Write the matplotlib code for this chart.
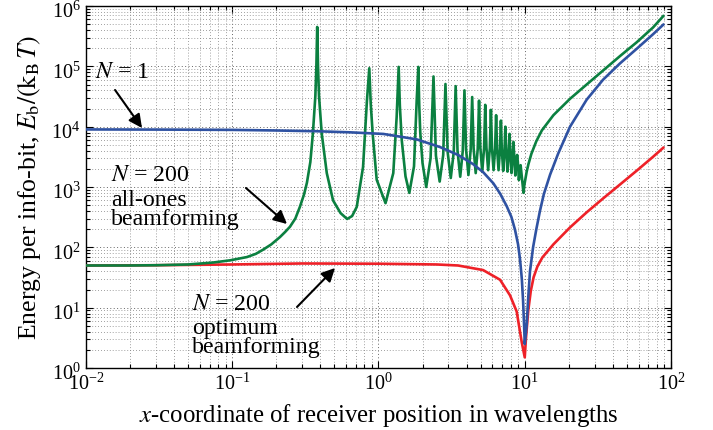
import numpy as np
import matplotlib
matplotlib.use("Agg")
import matplotlib.pyplot as plt
import matplotlib.transforms as mtransforms
from matplotlib.ticker import LogLocator, NullFormatter

# N = 1 (single antenna)
blue_x = [0.01, 0.03, 0.1, 0.2, 0.38, 0.64, 1.08, 1.82, 2.63, 3.5, 4.43, 5.21, 6.1,
          6.78, 7.53, 8.1, 8.58, 9.0, 9.29, 9.55, 9.74, 9.9, 10.0, 10.3, 10.57, 10.86,
          11.4, 12.0, 12.7, 13.5, 14.9, 16.9, 20.4, 26.5, 34.3, 44.8, 58.2, 75.3, 88.5]
blue_y = [9000, 8950, 8850, 8650, 8400, 8060, 7580, 6170, 4600, 3400, 2400, 1750, 1150,
          780, 480, 320, 195, 112, 62, 30, 13, 5, 2.5, 5, 15, 40,
          100, 200, 400, 760, 1600, 3550, 1.0e4, 2.8e4, 6.0e4, 1.12e5, 1.95e5, 3.4e5, 4.9e5]

# N = 200, all-ones beamforming
green_x = [0.01, 0.02, 0.03, 0.05, 0.074, 0.097, 0.126, 0.145, 0.162, 0.185, 0.212, 0.23,
           0.248, 0.27, 0.29, 0.31, 0.324, 0.342, 0.356, 0.37, 0.376, 0.381, 0.386,
           0.392, 0.409, 0.443, 0.489, 0.55, 0.61, 0.66, 0.71, 0.784, 0.834, 0.865,
           0.885, 0.912, 0.972, 1.117, 1.262, 1.331, 1.374, 1.40, 1.442, 1.53, 1.625,
           1.749, 1.825, 1.872, 1.90, 1.93, 2.0, 2.12, 2.27, 2.377, 2.47, 2.62, 2.77,
           2.87, 2.97, 3.12, 3.27, 3.37, 3.47, 3.62, 3.77, 3.87, 3.97, 4.12, 4.27, 4.37,
           4.47, 4.62, 4.77, 4.87, 4.97, 5.12, 5.27, 5.37, 5.47, 5.62, 5.77, 5.87, 5.97,
           6.12, 6.27, 6.37, 6.47, 6.62, 6.77, 6.87, 6.97, 7.12, 7.27, 7.37, 7.47, 7.62,
           7.77, 7.87, 7.97, 8.12, 8.27, 8.37, 8.47, 8.62, 8.77, 8.87, 8.97, 9.12,
           9.27, 9.37, 9.47, 9.62, 9.7, 9.8, 9.95, 10.3, 10.6, 11.1, 12.0, 13.1, 15.7,
           20.4, 26.5, 34.3, 44.8, 58.2, 75.3, 88.5]
green_y = [50, 50, 50.5, 52, 56, 61, 69, 78, 91, 112, 148, 180,
           219, 300, 468, 760, 1175, 2600, 7760, 3.2e4, 1.0e5, 4.5e5, 1.0e5,
           3.2e4, 7760, 1700, 600, 370, 295, 330, 468, 2140, 27500, 9.3e4,
           2.4e4, 7760, 1320, 540, 1700, 14500, 9.8e4, 2.2e4, 6000, 1500, 800,
           2200, 27500, 9.8e4, 2.2e4, 8000, 2500, 1000, 3000, 6.8e4, 3300, 1230, 3400,
           5.1e4, 3800, 1410, 3800, 4.7e4, 4000, 1480, 4000, 4.0e4, 4200, 1580, 4200, 3.1e4,
           4400, 1700, 4300, 2.7e4, 4500, 1800, 4400, 2.3e4, 4500, 1900, 4400, 1.9e4, 4400,
           1900, 4300, 1.55e4, 4300, 1900, 4200, 1.26e4, 4200, 1850, 4000, 1.0e4, 4000, 1800,
           3700, 7600, 3700, 1700, 3300, 5600, 3300, 1550, 2600, 3400, 2600, 1300,
           1900, 2300, 1800, 1300, 1000, 800, 1100, 1780, 2400, 3550, 5750, 8700, 15500,
           2.9e4, 5.0e4, 8.5e4, 1.48e5, 2.5e5, 4.4e5, 6.8e5]

# N = 200, optimum beamforming
red_x = [0.01, 0.03, 0.1, 0.3, 1.0, 2.5, 3.5, 5.19, 6.78, 7.93, 8.81, 9.53, 10.0,
         10.2, 10.57, 11.0, 11.5, 12.2, 13.2, 15.7, 20.4, 26.5, 34.3, 44.8, 58.2, 75.3, 88.5]
red_y = [50, 50.5, 52, 54, 53.5, 52, 50, 42, 29, 16, 8.6, 2.7, 1.5,
         3.2, 9, 19, 32, 48, 68, 112, 214, 380, 645, 1100, 1860, 3160, 4470]

plt.rcParams['font.family'] = ['Liberation Serif', 'DejaVu Serif']
plt.rcParams['mathtext.fontset'] = 'stix'

fig = plt.figure(figsize=(7.13, 4.30), dpi=100)
ax = fig.add_axes([0.1206, 0.1442, 0.8205, 0.8418])

ax.plot(red_x, red_y, color="#ee2128", lw=1.9, zorder=3)
ax.plot(green_x, green_y, color="#0b8040", lw=1.9, zorder=4)
ax.plot(blue_x, blue_y, color="#2f52a2", lw=1.9, zorder=5)

ax.set_xscale('log')
ax.set_yscale('log')
ax.set_xlim(1e-2, 1e2)
ax.set_ylim(1e0, 1e6)

for axis in (ax.xaxis, ax.yaxis):
    axis.set_major_locator(LogLocator(base=10, numticks=10))
    axis.set_minor_locator(LogLocator(base=10, subs=np.arange(2, 10), numticks=20))
    axis.set_minor_formatter(NullFormatter())

ax.tick_params(which='both', direction='in', top=True, right=True, labelsize=14.5, width=0.8)
ax.tick_params(which='major', length=5, pad=4)
ax.tick_params(which='minor', length=3)
ax.grid(True, which='major', linestyle=(0, (1, 2.5)), color='0.4', lw=0.7)
ax.grid(True, which='minor', linestyle=(0, (1, 2.5)), color='0.5', lw=0.6)
for s in ax.spines.values():
    s.set_linewidth(1.0)

# shift y tick labels a little downwards, as in the original
offset = mtransforms.ScaledTranslation(0, -4 / 100, fig.dpi_scale_trans)
for lab in ax.get_yticklabels():
    lab.set_transform(lab.get_transform() + offset)

ax.set_xlabel("$x$-coordinate of receiver position in wavelengths", fontsize=17.8, labelpad=5)
ax.set_ylabel(r"Energy per info-bit, $E_\mathrm{b}/(\mathrm{k_B}\,T)$", fontsize=18.5, labelpad=6)

fs = 17.2
ax.text(0.01152, 6.41e4, "$N$ = 1", fontsize=fs, va='baseline', ha='left')
ax.text(0.01483, 1258, "$N$ = 200", fontsize=fs, va='baseline', ha='left')
ax.text(0.01483, 480, "all-ones", fontsize=fs, va='baseline', ha='left')
ax.text(0.01483, 232, "beamforming", fontsize=fs, va='baseline', ha='left')
ax.text(0.0531, 9.15, "$N$ = 200", fontsize=fs, va='baseline', ha='left')
ax.text(0.0531, 3.6, "optimum", fontsize=fs, va='baseline', ha='left')
ax.text(0.0531, 1.80, "beamforming", fontsize=fs, va='baseline', ha='left')

arrow = dict(arrowstyle='-|>', color='k', lw=1.5, mutation_scale=20, shrinkA=0, shrinkB=0)
ax.annotate("", xy=(0.02415, 9510), xytext=(0.0158, 4.06e4), arrowprops=arrow, zorder=6)
ax.annotate("", xy=(0.2368, 243.7), xytext=(0.1241, 963), arrowprops=arrow, zorder=6)
ax.annotate("", xy=(0.5043, 45.4), xytext=(0.2772, 10.26), arrowprops=arrow, zorder=6)

plt.savefig("out.png", dpi=100)
plt.close()
